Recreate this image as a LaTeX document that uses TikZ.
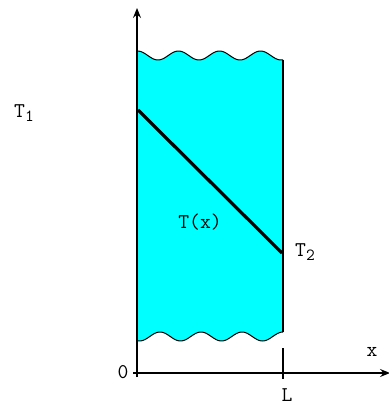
\documentclass[tikz,border=0pt]{standalone}
\usepackage{fontspec}
\usetikzlibrary{arrows.meta}
\definecolor{slab}{RGB}{0,255,255}
\tikzset{
  axis/.style={line width=1.2pt,-{Stealth[length=10pt,width=8pt,inset=3.5pt]}},
  edge/.style={line width=2.8pt},
  wave/.style={line width=1pt},
  lbl/.style={inner sep=0pt,font=\ttfamily\fontsize{21}{21}\selectfont},
}
\newcommand{\subn}[1]{\raisebox{-0.4ex}{\fontsize{17}{17}\selectfont #1}}
\begin{document}
\begin{tikzpicture}[x=1pt,y=-1pt]
\useasboundingbox (0,0) rectangle (388,406);
% slab fill
\fill[slab] plot[domain=137:283,samples=80] (\x,{55.5+4.5*cos((\x-158)*8.78049)})
  -- plot[domain=283:137,samples=80] (\x,{336.5-4.5*cos((\x-160)*8.78049)}) -- cycle;
\draw[wave] plot[domain=137:283,samples=80] (\x,{55.5+4.5*cos((\x-158)*8.78049)});
\draw[wave] plot[domain=137:283,samples=80] (\x,{336.5-4.5*cos((\x-160)*8.78049)});
% coordinates
\coordinate (tl) at (137,51);
\coordinate (bl) at (137,341);
\coordinate (tr) at (283,60);
\coordinate (br) at (283,332);
\coordinate (ytop) at (137,8);
\coordinate (ybot) at (137,377);
\coordinate (xl) at (133,373);
\coordinate (xr) at (390,373);
\coordinate (Lt) at (283,348);
\coordinate (Lb) at (283,379);
\coordinate (p1) at (138,110);
\coordinate (p2) at (282,253);
% edges
\draw[edge] (tl) -- (bl);
\draw[edge] (tr) -- (br);
% axes
\draw[axis] (ybot) -- (ytop);
\draw[axis] (xl) -- (xr);
\draw[line width=1.2pt] (Lt) -- (Lb);
% profile
\draw[line width=3.2pt] (p1) -- (p2);
% labels
\node[lbl] (T1) at (24,113) {T\subn{1}};
\node[lbl] (T2) at (305,252) {T\subn{2}};
\node[lbl] (Tx) at (200,222) {T(x)};
\node[lbl] (zero) at (123,372) {0};
\node[lbl] (L) at (287,395) {L};
\node[lbl] (xlab) at (372,352) {x};
\end{tikzpicture}
\end{document}
